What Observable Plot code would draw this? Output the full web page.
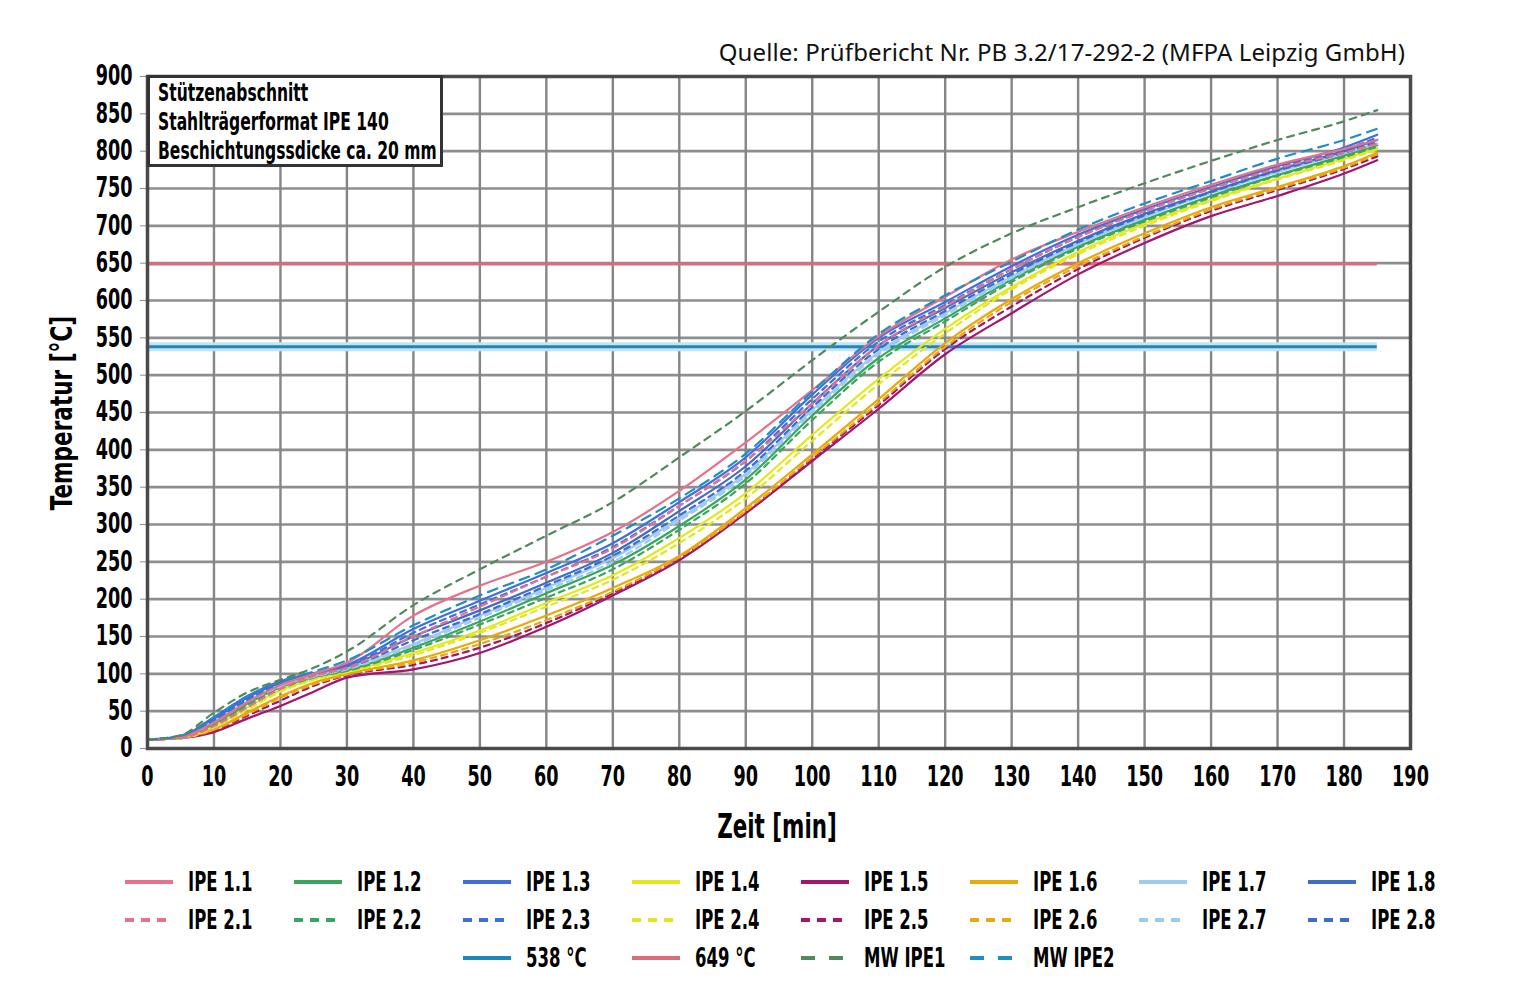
<!DOCTYPE html>
<html><head><meta charset="utf-8">
<script src="https://cdn.jsdelivr.net/npm/d3@7"></script>
<script src="https://cdn.jsdelivr.net/npm/@observablehq/plot@0.6"></script>
<style>
body{margin:0;background:#fff;width:1535px;height:1007px;position:relative;overflow:hidden;font-family:"DejaVu Sans Condensed","DejaVu Sans",sans-serif;}
#chart{position:absolute;left:0;top:0;}
#source{position:absolute;top:35px;right:130px;font-family:"Noto Sans","DejaVu Sans",sans-serif;font-size:24px;color:#111;white-space:nowrap;letter-spacing:0.1px;}
#info{position:absolute;left:147px;top:75px;width:290px;height:86px;border:3px solid #333;background:#fff;color:#000;}
#info div{position:absolute;left:8px;font-weight:bold;font-size:24px;white-space:nowrap;transform:scaleX(0.72);transform-origin:0 50%;line-height:28px;}
#ylab{position:absolute;left:61px;top:413px;transform:translate(-50%,-50%) rotate(-90deg) scaleX(0.8);font-weight:bold;font-size:30px;white-space:nowrap;}
#xlab{position:absolute;left:777px;top:826px;transform:translate(-50%,-50%) scaleX(0.7);font-weight:bold;font-size:34px;white-space:nowrap;}
#legend{position:absolute;left:0;top:0;}
.li{position:absolute;height:30px;transform:translateY(-50%);}
.li svg{position:absolute;left:0;top:10px;}
.li span{position:absolute;left:63px;top:0;font-weight:bold;font-size:27px;line-height:30px;white-space:nowrap;transform:scaleX(0.68);transform-origin:0 50%;}
</style></head>
<body>
<div id="chart"></div>
<div id="source">Quelle: Prüfbericht Nr. PB 3.2/17-292-2 (MFPA Leipzig GmbH)</div>
<div id="info"><div style="top:1px">Stützenabschnitt</div><div style="top:30px">Stahlträgerformat IPE 140</div><div style="top:59px">Beschichtungssdicke ca. 20 mm</div></div>
<div id="ylab">Temperatur [°C]</div>
<div id="xlab">Zeit [min]</div>
<div id="legend"></div>
<script>
// ---- data ----
const times = [0,5,10,15,20,25,30,40,50,60,70,80,90,100,110,120,130,140,150,160,170,180,185];
const xTicks = [0,10,20,30,40,50,60,70,80,90,100,110,120,130,140,150,160,170,180,190];
const yTicks = [0,50,100,150,200,250,300,350,400,450,500,550,600,650,700,750,800,850,900];

const ipe15 = [12,14,22,40,57,76,95,106,128,163,205,252,315,385,455,528,583,635,677,713,740,770,788];
const ipe25 = [12,14,24,44,64,84,98,112,135,168,208,255,317,388,460,535,592,642,684,720,748,776,793];
const ipe26 = [12,14,25,46,68,86,99,115,140,172,210,256,318,390,463,538,598,646,686,722,750,778,796];
const ipe16 = [12,14,26,48,70,88,100,118,145,178,215,258,322,394,468,543,602,650,690,725,752,780,798];
const ipe24 = [12,14,28,52,76,92,102,125,155,190,226,275,335,412,488,556,615,662,700,733,762,788,802];
const ipe14 = [12,14,30,55,78,93,103,128,158,195,232,282,342,420,495,562,618,665,703,735,763,790,804];
const ipe22 = [12,14,32,58,80,95,104,132,166,202,240,293,355,440,518,572,625,670,706,738,767,792,806];
const ipe12 = [12,15,33,60,82,96,105,135,170,208,246,298,360,446,523,576,628,672,708,740,768,794,808];
const ipe27 = [12,15,35,62,83,96,106,138,175,212,250,305,365,450,528,580,630,675,712,745,775,800,814];
const ipe17 = [12,15,36,63,84,97,108,140,178,215,255,308,368,453,531,583,632,676,712,744,772,797,810];
const ipe28 = [12,15,38,65,86,98,108,145,180,218,258,312,372,457,535,586,635,678,714,745,774,798,812];
const ipe18 = [12,16,42,70,90,101,110,150,185,222,262,318,378,462,540,590,638,680,716,746,775,800,815];
const ipe23 = [12,16,38,66,87,99,110,155,193,230,270,325,385,468,545,594,642,685,720,750,778,802,818];
const ipe13 = [12,16,40,68,88,100,112,160,198,235,275,330,390,474,550,598,646,688,722,752,780,805,822];
const ipe21 = [12,14,30,55,80,97,108,150,190,230,268,325,385,462,540,592,642,685,720,750,777,798,810];
const ipe11 = [12,15,35,62,85,100,115,178,218,250,290,345,410,480,552,605,655,692,725,755,782,803,815];
const mwIpe2 = [12,17,42,70,90,103,118,165,205,240,285,335,395,478,555,607,652,695,730,760,790,815,830];
const mwIpe1 = [12,18,48,75,92,108,130,192,240,285,330,390,452,520,585,645,690,725,757,787,815,840,855];

const thresholdValues = [538, 649];
const thresholdLabels = ["538 °C", "649 °C"];

// ---- styles ----
const C = {
  c1:"#e8708a", c2:"#3aa65c", c3:"#3f6fdb", c4:"#e3e81c", c5:"#a3156e", c6:"#e8a90a", c7:"#9ec9f0", c8:"#3d6cc9",
  t538:"#1f86bb", t649:"#df6a78", mw1:"#4f8a5c", mw2:"#1f8ec4"
};
const series = [
  {name:"IPE 1.5", v:ipe15, color:C.c5, dash:null},
  {name:"IPE 2.5", v:ipe25, color:C.c5, dash:"6,5"},
  {name:"IPE 2.6", v:ipe26, color:C.c6, dash:"6,5"},
  {name:"IPE 1.6", v:ipe16, color:C.c6, dash:null},
  {name:"IPE 2.4", v:ipe24, color:C.c4, dash:"6,5"},
  {name:"IPE 1.4", v:ipe14, color:C.c4, dash:null},
  {name:"IPE 2.2", v:ipe22, color:C.c2, dash:"6,5"},
  {name:"IPE 1.2", v:ipe12, color:C.c2, dash:null},
  {name:"IPE 2.7", v:ipe27, color:C.c7, dash:"6,5"},
  {name:"IPE 1.7", v:ipe17, color:C.c7, dash:null},
  {name:"IPE 2.8", v:ipe28, color:C.c8, dash:"6,5"},
  {name:"IPE 1.8", v:ipe18, color:C.c8, dash:null},
  {name:"IPE 2.3", v:ipe23, color:C.c3, dash:"6,5"},
  {name:"IPE 1.3", v:ipe13, color:C.c3, dash:null},
  {name:"IPE 2.1", v:ipe21, color:C.c1, dash:"6,5"},
  {name:"IPE 1.1", v:ipe11, color:C.c1, dash:null},
  {name:"MW IPE2", v:mwIpe2, color:C.mw2, dash:"10,7"},
  {name:"MW IPE1", v:mwIpe1, color:C.mw1, dash:"7,6"}
];

const rows = s => times.map((t,i)=>({t, v:s.v[i]}));
const thr = thresholdValues.map((v,i)=>({v, label:thresholdLabels[i]}));

const marks = [
  Plot.gridY(yTicks, {stroke:"#8e8e8e", strokeWidth:2.6, strokeOpacity:1}),
  Plot.gridX(xTicks, {stroke:"#858585", strokeWidth:2.4, strokeOpacity:1}),
  Plot.axisY(yTicks, {tickSize:7, tickPadding:8, stroke:"#8e8e8e", fill:"#000", fontWeight:"bold", fontSize:28, label:null}),
  Plot.axisX(xTicks, {tickSize:0, tickPadding:18, fill:"#000", fontWeight:"bold", fontSize:28, label:null}),
  Plot.ruleY([538], {x1:0, x2:185, stroke:"#c6e3f3", strokeWidth:9}),
  Plot.ruleY(thr, {y:"v", x1:0, x2:185, stroke:d=>d.v===538?C.t538:C.t649, strokeWidth:3})
];
for (const s of series) {
  marks.push(Plot.line(rows(s), {x:"t", y:"v", stroke:s.color, strokeWidth:2.2, strokeDasharray:s.dash||undefined, curve:"monotone-x"}));
}
marks.push(Plot.frame({stroke:"#4a4a4a", strokeWidth:3.5}));

const plot = Plot.plot({
  width:1535, height:860,
  marginLeft:147, marginRight:125, marginTop:76, marginBottom:112,
  x:{domain:[0,190]}, y:{domain:[0,900]},
  style:{fontFamily:'"DejaVu Sans Condensed","DejaVu Sans",sans-serif', fontSize:"28px", background:"transparent", color:"#000"},
  marks
});
document.getElementById("chart").appendChild(plot);

// horizontally squeeze tick labels (condensed look of the original) without moving them
function squeeze(sel, s){
  plot.querySelectorAll(sel).forEach(t=>{
    const len = t.getComputedTextLength();
    if (len > 0) {
      t.setAttribute("textLength", (len * s).toFixed(2));
      t.setAttribute("lengthAdjust", "spacingAndGlyphs");
    }
  });
}
squeeze('g[aria-label="y-axis tick label"] text', 0.7);
squeeze('g[aria-label="x-axis tick label"] text', 0.7);

// ---- legend ----
const legendItems = [
  ["IPE 1.1",C.c1,null],["IPE 1.2",C.c2,null],["IPE 1.3",C.c3,null],["IPE 1.4",C.c4,null],["IPE 1.5",C.c5,null],["IPE 1.6",C.c6,null],["IPE 1.7",C.c7,null],["IPE 1.8",C.c8,null],
  ["IPE 2.1",C.c1,"9,7"],["IPE 2.2",C.c2,"9,7"],["IPE 2.3",C.c3,"9,7"],["IPE 2.4",C.c4,"9,7"],["IPE 2.5",C.c5,"9,7"],["IPE 2.6",C.c6,"9,7"],["IPE 2.7",C.c7,"9,7"],["IPE 2.8",C.c8,"9,7"],
  ["538 °C",C.t538,null],["649 °C",C.t649,null],["MW IPE1",C.mw1,"14,14"],["MW IPE2",C.mw2,"14,14"]
];
const colX = [125,294,463,632,801,970,1139,1308];
const rowY = [882,920,958];
const leg = document.getElementById("legend");
legendItems.forEach((it,i)=>{
  let r, c;
  if (i<8){r=0;c=i;} else if (i<16){r=1;c=i-8;} else {r=2;c=i-16+2;}
  const d = document.createElement("div");
  d.className="li";
  d.style.left=colX[c]+"px"; d.style.top=rowY[r]+"px";
  d.innerHTML = `<svg width="48" height="10"><line x1="0" y1="5" x2="48" y2="5" stroke="${it[1]}" stroke-width="4" ${it[2]?`stroke-dasharray="${it[2]}"`:""}/></svg><span>${it[0]}</span>`;
  leg.appendChild(d);
});
</script>
</body></html>
